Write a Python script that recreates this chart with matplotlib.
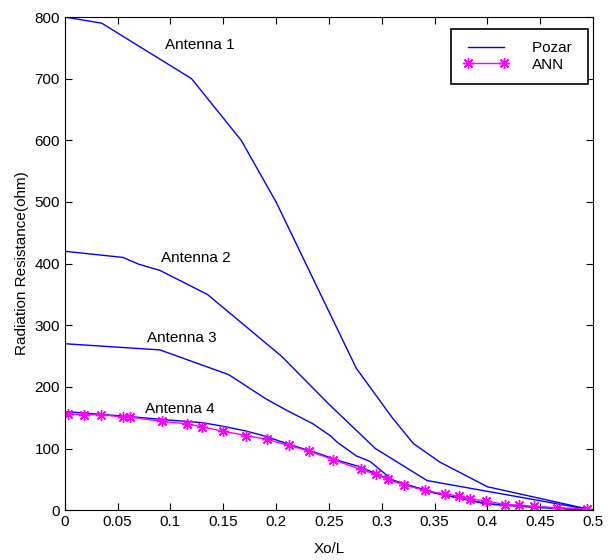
import matplotlib
matplotlib.use('Agg')
import matplotlib.pyplot as plt

plt.rcParams['font.family'] = ['Liberation Sans', 'DejaVu Sans']

# Pozar curves
x_ant1 = [0, 0.035, 0.12, 0.167, 0.2, 0.276, 0.31, 0.33, 0.355, 0.4, 0.5]
r_ant1 = [800, 790, 700, 600, 500, 230, 150, 108, 78, 38, 0]

x_ant2 = [0, 0.055, 0.07, 0.09, 0.135, 0.205, 0.25, 0.294, 0.343, 0.5]
r_ant2 = [420, 410, 399, 389, 350, 250, 172, 100, 48, 0]

x_ant3 = [0, 0.09, 0.155, 0.19, 0.21, 0.235, 0.252, 0.258, 0.276, 0.289, 0.301, 0.311, 0.35, 0.4, 0.5]
r_ant3 = [270, 260, 220, 181, 162, 140, 120, 110, 88, 79, 62, 48, 28, 10, 0]

x_ant4 = [0, 0.06, 0.1, 0.13, 0.15, 0.17, 0.19, 0.21, 0.24, 0.26, 0.28, 0.3, 0.32, 0.35, 0.4, 0.45, 0.5]
r_ant4 = [160, 152, 146, 142, 136, 129, 120, 108, 92, 80, 70, 55, 43, 28, 10, 4, 0]

# ANN results for antenna 4
x_ann = [0.003, 0.018, 0.034, 0.055, 0.062, 0.092, 0.116, 0.130, 0.150, 0.172, 0.191, 0.212, 0.231,
         0.254, 0.280, 0.295, 0.306, 0.321, 0.341, 0.360, 0.373, 0.384, 0.399, 0.417, 0.430, 0.444,
         0.466, 0.494]
r_ann = [156, 155, 155, 151, 151, 144, 140, 135, 128, 121, 115, 105, 96,
         82, 66, 58, 50, 41, 32, 26, 23, 18, 15, 9, 8, 6,
         4, 2]

labels = ['Antenna 1', 'Antenna 2', 'Antenna 3', 'Antenna 4']
label_x = [0.128, 0.124, 0.111, 0.109]
label_y = [755, 409, 279, 164]

fig = plt.figure(figsize=(6.11, 5.6), dpi=100)
ax = fig.add_axes([0.106, 0.089, 0.8645, 0.8806])

blue = '#0000ff'
mag = '#ff00ff'
ax.plot(x_ant1, r_ant1, color=blue, lw=1.0, label='Pozar ')
ax.plot(x_ant2, r_ant2, color=blue, lw=1.0)
ax.plot(x_ant3, r_ant3, color=blue, lw=1.0)
ax.plot(x_ant4, r_ant4, color=blue, lw=1.0)
ax.plot(x_ann, r_ann, color=mag, lw=1.0, marker=(8, 2, 0), markersize=8,
        markeredgewidth=1.0, label='ANN')

for t, tx, ty in zip(labels, label_x, label_y):
    ax.text(tx, ty, t, ha='center', va='center', fontsize=11)

ax.set_xlim(0, 0.5)
ax.set_ylim(0, 800)
ax.set_xticks([0, 0.05, 0.1, 0.15, 0.2, 0.25, 0.3, 0.35, 0.4, 0.45, 0.5])
ax.set_xticklabels(['0', '0.05', '0.1', '0.15', '0.2', '0.25', '0.3', '0.35', '0.4', '0.45', '0.5'])
ax.set_yticks(range(0, 801, 100))
ax.tick_params(direction='in', top=True, right=True, labelsize=11, length=5)
ax.set_xlabel('Xo/L', fontsize=11, labelpad=9)
ax.set_ylabel('Radiation Resistance(ohm)', fontsize=11, labelpad=4)

leg = ax.legend(loc='upper right', bbox_to_anchor=(0.9905, 0.9757), fancybox=False,
                edgecolor='black', framealpha=1, fontsize=11, handlelength=3.0, numpoints=2,
                borderpad=0.8, labelspacing=0.15, handletextpad=1.5, borderaxespad=0)
leg.get_frame().set_linewidth(1.2)

fig.savefig('out.png', dpi=100)
